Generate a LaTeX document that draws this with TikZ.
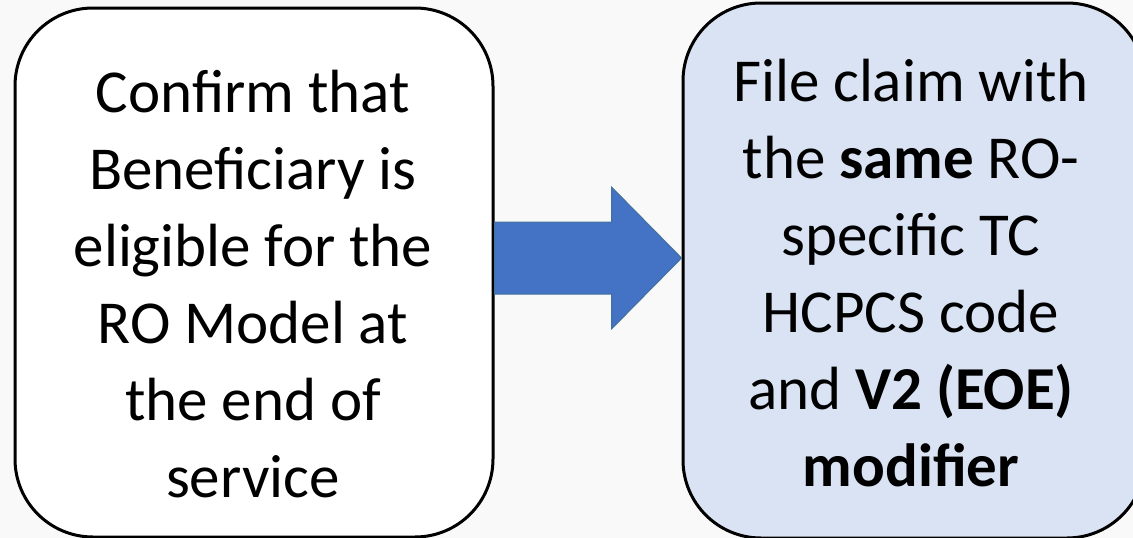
\documentclass[tikz,border=0pt]{standalone}
\usepackage{fontspec}
\setmainfont{Carlito}
\usepackage{tikz}
\usetikzlibrary{positioning, calc}

\definecolor{page_bg}{HTML}{F9F9F9}
\definecolor{panel_blue}{HTML}{DAE3F3}
\definecolor{arrow_fill}{HTML}{4472C4}
\definecolor{arrow_edge}{HTML}{41719C}

\begin{document}
\begin{tikzpicture}[x=1pt, y=-1pt]
    % Define styles for the nodes
    \tikzstyle{panel} = [
        draw, line width=3pt, rounded corners=78pt, inner sep=0
    ]
    \tikzstyle{panel_text} = [
        text centered, align=center, inner sep=0,
        font=\fontsize{61}{77}\selectfont
    ]
    \tikzstyle{big_arrow} = [
        fill=arrow_fill, draw=arrow_edge, line width=1pt, line join=miter
    ]

    % Page
    \useasboundingbox (0,0) rectangle (1133,538);
    \clip (0,0) rectangle (1133,538);
    \fill[page_bg] (0,0) rectangle (1133,538);

    % Left panel
    \node[panel, fill=white, minimum width=478pt, minimum height=529pt]
        (confirm) at (254,272.5) {};
    \node[panel_text] (confirm_text) at (253,284) {Confirm that\\
        Beneficiary is\\ eligible for the\\ RO Model at\\ the end of\\ service};

    % Right panel
    \node[panel, fill=panel_blue, minimum width=462pt, minimum height=535pt]
        (file) at (914,270.5) {};
    \node[panel_text] (file_text) at (911,273) {File claim with\\
        the \textbf{same} RO-\\ specific TC\\ HCPCS code\\
        and \textbf{V2 (EOE)}\\ \textbf{modifier}};

    % Arrow between the panels
    \coordinate (arrow_tail) at ([yshift=14.5pt]confirm.east);
    \coordinate (arrow_tip) at (arrow_tail -| file.west);
    \draw[big_arrow] (arrow_tail) ++(0,-36)
        -- ($(arrow_tip)+(-70,-36)$) -- ($(arrow_tip)+(-70,-71)$)
        -- (arrow_tip)
        -- ($(arrow_tip)+(-70,71)$) -- ($(arrow_tip)+(-70,36)$)
        -- ($(arrow_tail)+(0,36)$) -- cycle;

\end{tikzpicture}
\end{document}
